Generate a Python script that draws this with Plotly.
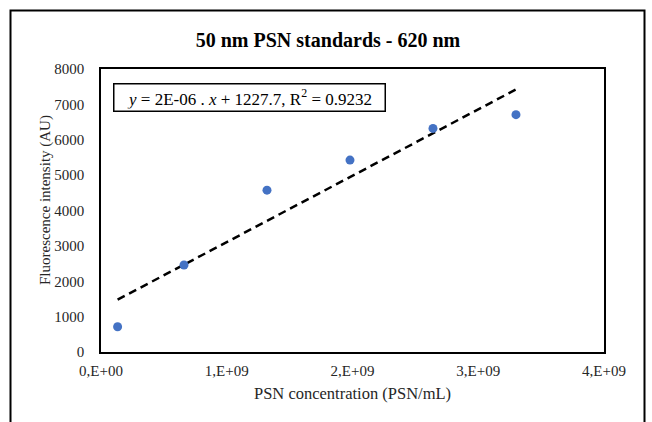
import numpy as np
import plotly.graph_objects as go

# Data
concentration = [1.32e8, 6.6e8, 1.32e9, 1.98e9, 2.64e9, 3.30e9]   # PSN/mL
fluorescence = [715, 2460, 4575, 5425, 6320, 6710]                 # AU

x_tick_vals = [0, 1e9, 2e9, 3e9, 4e9]
x_tick_text = ["0,E+00", "1,E+09", "2,E+09", "3,E+09", "4,E+09"]
y_tick_vals = [0, 1000, 2000, 3000, 4000, 5000, 6000, 7000, 8000]

title_text = "<b>50 nm PSN standards - 620 nm</b>"
x_title = "PSN concentration (PSN/mL)"
y_title = "Fluorescence intensity (AU)"
equation_text = "<i>y</i> = 2E-06 . <i>x</i> + 1227.7, R<sup>2</sup> = 0.9232"

# Linear trendline (least squares)
xa = np.array(concentration)
ya = np.array(fluorescence)
slope, intercept = np.polyfit(xa, ya, 1)
trend_x = [xa.min(), xa.max()]
trend_y = [slope * v + intercept for v in trend_x]

W, H = 652, 422
L, R, T, B = 101, 48, 69, 70
pw, ph = W - L - R, H - T - B

def px_to_paper_x(px):
    return (px - L) / pw

def px_to_paper_y(py):
    return (H - B - py) / ph

font_family = "Liberation Serif"

fig = go.Figure()
fig.add_trace(go.Scatter(
    x=trend_x, y=trend_y, mode="lines",
    line=dict(color="black", width=2.5, dash="8px,5px"),
    hoverinfo="skip", showlegend=False,
))
fig.add_trace(go.Scatter(
    x=concentration, y=fluorescence, mode="markers",
    marker=dict(color="#4472C4", size=9),
    showlegend=False,
))

fig.update_layout(
    width=W, height=H,
    margin=dict(l=L, r=R, t=T, b=B),
    paper_bgcolor="white", plot_bgcolor="white",
    font=dict(family=font_family, color="#262626", size=13),
    title=dict(text=title_text, x=328 / W, xanchor="center",
               y=1 - 40 / H, yanchor="middle",
               font=dict(size=20, color="black", family=font_family)),
    xaxis=dict(
        range=[0, 4e9], tickvals=x_tick_vals, ticktext=x_tick_text,
        showgrid=False, zeroline=False, showline=True, linecolor="black",
        linewidth=1.5, mirror=True, ticks="", ticklabelstandoff=4,
        tickfont=dict(size=15, color="#262626"),
    ),
    yaxis=dict(
        range=[0, 8000], tickvals=y_tick_vals,
        showgrid=False, zeroline=False, showline=True, linecolor="black",
        linewidth=1.5, mirror=True, ticks="", ticklabelstandoff=12,
        tickfont=dict(size=15, color="#262626"),
    ),
    shapes=[dict(
        type="rect", xref="paper", yref="paper",
        x0=px_to_paper_x(10.5), x1=px_to_paper_x(644.5),
        y0=px_to_paper_y(440), y1=px_to_paper_y(10.5),
        line=dict(color="black", width=2), fillcolor="rgba(0,0,0,0)",
        layer="below",
    )],
    annotations=[
        dict(
            text=equation_text, xref="paper", yref="paper",
            x=px_to_paper_x(249), y=px_to_paper_y(97),
            xanchor="center", yanchor="middle", showarrow=False,
            width=266, height=22, align="center",
            font=dict(size=17, color="black", family=font_family),
            bordercolor="black", borderwidth=1.5, borderpad=2, bgcolor="white",
        ),
        dict(
            text=x_title, xref="paper", yref="paper",
            x=px_to_paper_x(352), y=px_to_paper_y(393),
            xanchor="center", yanchor="middle", showarrow=False,
            font=dict(size=16.5, color="#262626", family=font_family),
        ),
        dict(
            text=y_title, xref="paper", yref="paper", textangle=-90,
            x=px_to_paper_x(45), y=px_to_paper_y(200),
            xanchor="center", yanchor="middle", showarrow=False,
            font=dict(size=15, color="#262626", family=font_family),
        ),
    ],
)

fig.write_html("out.html", config={"displayModeBar": False},
               post_script="document.body.style.margin='0px';")
